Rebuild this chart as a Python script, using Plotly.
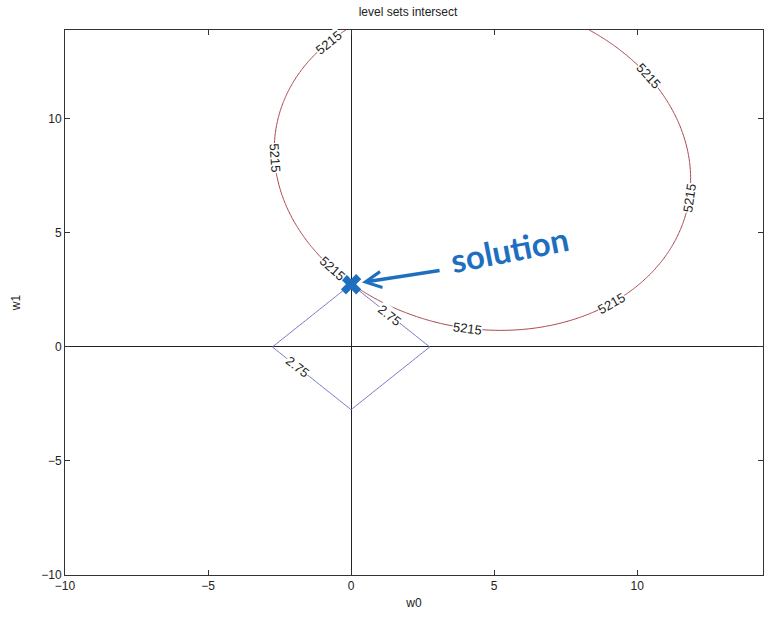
import numpy as np
import plotly.graph_objects as go

# ---- data ----
# points lying on the 5215 level set of the loss (w0, w1)
ellipse_w0 = [-0.31, -2.07, -2.69, -1.96, 0.0, 1.71, 5.38, 8.46, 10.56, 11.89, 11.43, 10.35, 8.36]
ellipse_w1 = [13.9, 11.2, 9.08, 5.35, 2.75, 1.62, 0.70, 1.62, 3.25, 7.0, 9.96, 11.8, 13.9]
loss_level = 5215
l1_level = 2.75
# where the contour labels sit (approximate)
loss_label_w0 = [-0.66, -2.73, -0.63, 4.06, 9.06, 11.75, 10.31]
loss_label_w1 = [13.25, 8.29, 3.46, 0.83, 1.97, 6.54, 11.84]
l1_label_w0 = [1.36, -1.89]
l1_label_w1 = [1.39, -0.86]
solution_w0 = [0.0]
solution_w1 = [2.75]
tick_vals = [-10, -5, 0, 5, 10]
x_range = [-10, 14.4]
y_range = [-10, 13.9]

# plot-area geometry (pixels)
L, R, T, B = 65, 763, 30, 575
W, H = 773, 624
sx = (R - L) / (x_range[1] - x_range[0])
sy = (B - T) / (y_range[1] - y_range[0])

# ---- fit the quadratic loss whose level set passes through the read points ----
ex = np.array(ellipse_w0)
ey = np.array(ellipse_w1)
M = np.column_stack([ex**2, ex * ey, ey**2, ex, ey])
a, b, c, d, e = np.linalg.lstsq(M, np.ones_like(ex), rcond=None)[0]
P = np.array([[a, b / 2], [b / 2, c]])
g = np.array([d, e])
ctr = -0.5 * np.linalg.solve(P, g)
Qc = ctr @ P @ ctr + g @ ctr
A = P / (1 - Qc)

gx = np.linspace(x_range[0], x_range[1], 400)
gy = np.linspace(y_range[0], y_range[1], 400)
X, Y = np.meshgrid(gx, gy)
DX, DY = X - ctr[0], Y - ctr[1]
loss = loss_level * (A[0, 0] * DX**2 + 2 * A[0, 1] * DX * DY + A[1, 1] * DY**2)

hx = np.linspace(-4, 4, 161)
hy = np.linspace(-4, 4, 161)
HX, HY = np.meshgrid(hx, hy)
l1 = np.abs(HX) + np.abs(HY)

red = "#a8414a"
blue = "#7272c4"
ink = "#1f6fc0"
lab_font = dict(size=13, color="#222", family="Liberation Sans, Arial")

fig = go.Figure()
fig.add_trace(go.Contour(
    x=gx, y=gy, z=loss,
    contours=dict(start=loss_level, end=loss_level, size=1, coloring="lines", showlabels=False),
    colorscale=[[0, red], [1, red]], showscale=False, line=dict(width=1),
    hoverinfo="skip",
))
fig.add_trace(go.Contour(
    x=hx, y=hy, z=l1,
    contours=dict(start=l1_level, end=l1_level, size=1, coloring="lines", showlabels=False),
    colorscale=[[0, blue], [1, blue]], showscale=False, line=dict(width=1),
    hoverinfo="skip",
))
fig.add_trace(go.Scatter(
    x=solution_w0, y=solution_w1, mode="markers",
    marker=dict(symbol="x", size=18, color=ink, line=dict(width=0)),
    showlegend=False, hoverinfo="skip",
))


def angle_from_tangent(tx, ty):
    # convert data-space tangent to screen angle, keep text upright
    ang = np.degrees(np.arctan2(-ty * sy, tx * sx))
    while ang > 90:
        ang -= 180
    while ang <= -90:
        ang += 180
    return float(ang)


# labels on the loss ellipse (snapped onto the fitted level set)
for px, py in zip(loss_label_w0, loss_label_w1):
    v = np.array([px, py]) - ctr
    q = v @ A @ v
    v = v / np.sqrt(q)
    p = ctr + v
    gr = A @ v
    ang = angle_from_tangent(-gr[1], gr[0])
    fig.add_annotation(x=p[0], y=p[1], text=str(loss_level), showarrow=False,
                       textangle=ang, font=lab_font, bgcolor="white", borderpad=0)

# labels on the L1 ball
for px, py in zip(l1_label_w0, l1_label_w1):
    s = np.sign(px) * np.sign(py)
    ang = angle_from_tangent(1.0, -s * 1.0)
    fig.add_annotation(x=px, y=py, text=f"{l1_level:.2f}", showarrow=False,
                       textangle=ang, font=lab_font, bgcolor="white", borderpad=0)

fig.add_annotation(
    x=solution_w0[0], y=solution_w1[0], xref="x", yref="y",
    ax=90, ay=-14, axref="pixel", ayref="pixel",
    text="", showarrow=True, arrowhead=5, arrowsize=0.9, arrowwidth=3.5,
    arrowcolor=ink, standoff=11,
)
fig.add_annotation(
    x=(510 - L) / (R - L), y=(B - 249) / (B - T), xref="paper", yref="paper",
    text="<b>solution</b>", showarrow=False, textangle=-11,
    font=dict(size=33, color=ink, family="Lato, Noto Sans"),
)

axis_common = dict(
    showgrid=False, zeroline=True, zerolinecolor="#222", zerolinewidth=1,
    showline=True, linecolor="#333", linewidth=1, mirror="allticks",
    ticks="inside", ticklen=5, tickcolor="#333", automargin=False,
    tickvals=tick_vals, tickfont=dict(size=12, color="#222", family="Liberation Sans, Arial"),
)

fig.update_layout(
    width=W, height=H,
    margin=dict(l=L, r=W - R, t=T, b=H - B, autoexpand=False),
    plot_bgcolor="white", paper_bgcolor="white",
    showlegend=False,
    title=dict(text="level sets intersect", x=408 / W, xanchor="center",
               y=1 - 12 / H, yanchor="middle", yref="container", automargin=False,
               font=dict(size=12, color="#222", family="Liberation Sans, Arial")),
    xaxis=dict(range=x_range, title=dict(text="w0", standoff=6,
               font=dict(size=12, color="#222", family="Liberation Sans, Arial")),
               **axis_common),
    yaxis=dict(range=y_range, title=dict(text="w1", standoff=18,
               font=dict(size=12, color="#222", family="Liberation Sans, Arial")),
               **axis_common),
)

fig.write_html(
    "out.html",
    config={"displayModeBar": False},
    post_script="document.body.style.margin='0';document.body.style.overflow='hidden';",
)
